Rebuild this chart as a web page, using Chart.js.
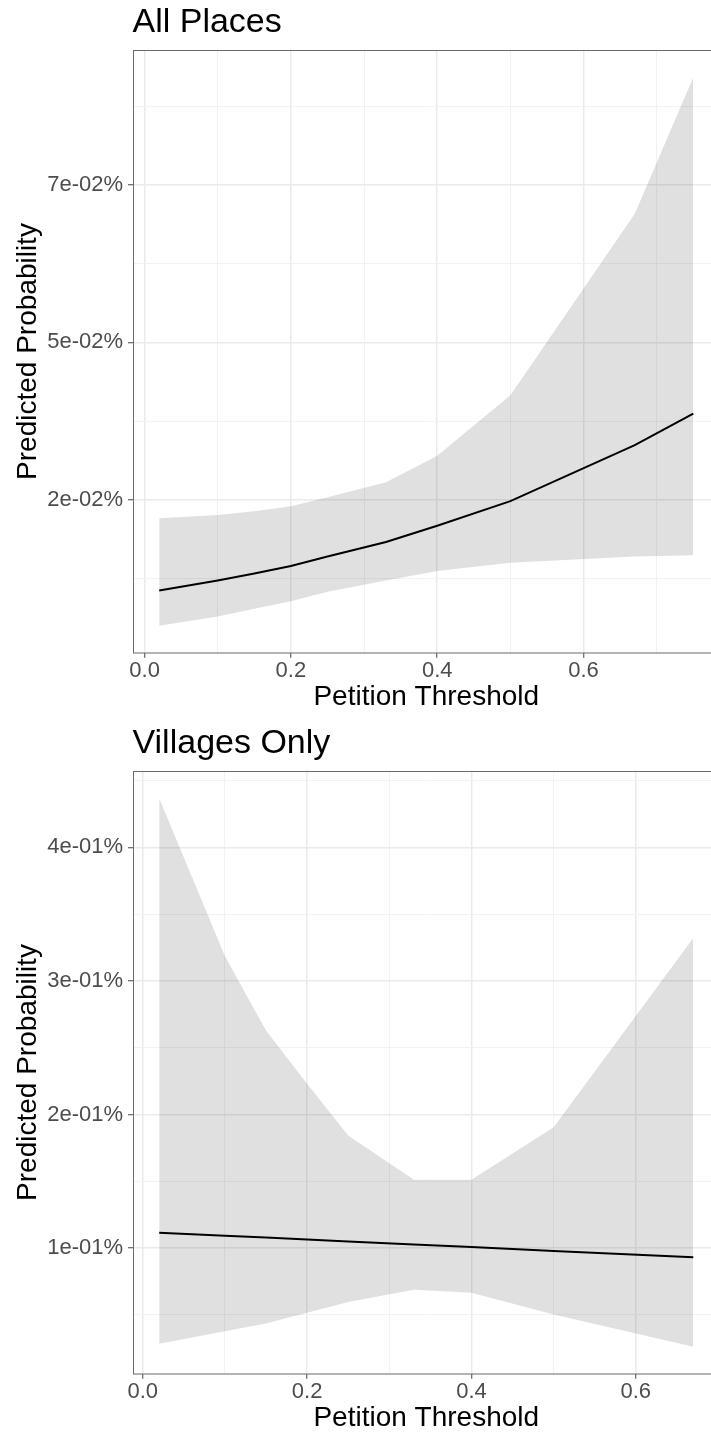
<!DOCTYPE html>
<html>
<head>
<meta charset="utf-8">
<script src="https://cdn.jsdelivr.net/npm/chart.js@4.4.1/dist/chart.umd.min.js"></script>
<style>
  html, body { margin: 0; padding: 0; background: #fff; }
  body { position: relative; width: 711px; height: 1435px; overflow: hidden; }
  canvas { position: absolute; left: 0; display: block; }
  #all-places { top: 0; }
  #villages { top: 721px; }
</style>
</head>
<body>
<canvas id="all-places" width="730" height="716"></canvas>
<canvas id="villages" width="730" height="716"></canvas>
<script>
// predicted probability (in %) with confidence band, by petition threshold
const allThresholds = [0.02, 0.10, 0.15, 0.20, 0.25, 0.33, 0.40, 0.50, 0.67, 0.75]
const allFit   = [0.0106, 0.0122, 0.0133, 0.0145, 0.0160, 0.0183, 0.0209, 0.0248, 0.0337, 0.0387]
const allUpper = [0.0221, 0.0226, 0.0232, 0.0240, 0.0254, 0.0278, 0.0320, 0.0416, 0.0704, 0.0921]
const allLower = [0.0050, 0.0065, 0.0077, 0.0089, 0.0104, 0.0122, 0.0137, 0.0150, 0.0160, 0.0162]
const allTicks = [0.025, 0.05, 0.075]
const allTickLabels = ['2e-02%', '5e-02%', '7e-02%']

const villageThresholds = [0.02, 0.10, 0.15, 0.20, 0.25, 0.33, 0.40, 0.50, 0.67]
const villageFit   = [0.1114, 0.1092, 0.1078, 0.1063, 0.1049, 0.1026, 0.1007, 0.0978, 0.0930]
const villageUpper = [0.4368, 0.3184, 0.2628, 0.2229, 0.1842, 0.1511, 0.1511, 0.1905, 0.3321]
const villageLower = [0.0284, 0.0376, 0.0434, 0.0516, 0.0596, 0.0688, 0.0666, 0.0503, 0.0260]
const villageTicks = [0.1, 0.2, 0.3, 0.4]
const villageTickLabels = ['1e-01%', '2e-01%', '3e-01%', '4e-01%']

const xTicks = [0, 0.2, 0.4, 0.6]
const xTickLabels = ['0.0', '0.2', '0.4', '0.6']

Chart.defaults.font.family = '"Liberation Sans", Arial, Helvetica, sans-serif'
Chart.defaults.animation = false

// ggplot style: pad the data range by 5% on each side
function expand(values) {
  const lo = Math.min(...values)
  const hi = Math.max(...values)
  const pad = (hi - lo) * 0.05
  return [lo - pad, hi + pad]
}

// major ticks plus a minor one halfway between (and past the last)
function withMinors(majors, step, lo, hi) {
  const ticks = []
  for (const v of majors) {
    ticks.push({ value: v - step / 2, minor: true })
    ticks.push({ value: v, minor: false })
  }
  ticks.push({ value: majors[majors.length - 1] + step / 2, minor: true })
  return ticks.filter(t => t.value >= lo && t.value <= hi)
}

function labeller(values, labels) {
  return value => {
    const k = values.findIndex(v => Math.abs(v - value) < 1e-9)
    return k < 0 ? '' : labels[k]
  }
}

const grid = {
  color: c => (c.tick && c.tick.minor) ? '#F2F2F2' : '#EBEBEB',
  lineWidth: c => (c.tick && c.tick.minor) ? 1 : 1.5,
  tickColor: c => (c.tick && c.tick.minor) ? 'rgba(0,0,0,0)' : '#444',
  tickWidth: 1,
  tickLength: 4.5
}

// frame round the plotting area
const panelBorder = {
  id: 'panelBorder',
  afterDatasetsDraw(chart) {
    const { ctx, chartArea: a } = chart
    const l = Math.round(a.left) + 0.5
    const t = Math.round(a.top) + 0.5
    ctx.save()
    ctx.strokeStyle = '#6a6a6a'
    ctx.lineWidth = 1
    ctx.strokeRect(l, t, Math.round(a.right) - l, Math.round(a.bottom) - t)
    ctx.restore()
  }
}

function drawPanel(id, title, xs, fit, upper, lower, yTicks, yTickLabels) {
  const [xMin, xMax] = expand(xs)
  const [yMin, yMax] = expand(upper.concat(lower))
  const yStep = yTicks[1] - yTicks[0]
  const points = ys => xs.map((x, i) => ({ x, y: ys[i] }))

  new Chart(document.getElementById(id), {
    type: 'line',
    data: {
      datasets: [
        { data: points(fit), borderColor: '#000', borderWidth: 2, pointRadius: 0, fill: false },
        { data: points(upper), borderColor: 'rgba(0,0,0,0)', borderWidth: 0, pointRadius: 0,
          backgroundColor: 'rgba(0,0,0,0.12)', fill: '+1' },
        { data: points(lower), borderColor: 'rgba(0,0,0,0)', borderWidth: 0, pointRadius: 0, fill: false }
      ]
    },
    options: {
      responsive: false,
      layout: { padding: { left: 0, right: 10, top: 0, bottom: 0 } },
      plugins: {
        legend: { display: false },
        tooltip: { enabled: false },
        title: {
          display: true, text: title, align: 'start', fullSize: false, color: '#000',
          font: { size: 34, weight: 'normal', lineHeight: 1.2 },
          padding: { top: 2.6, bottom: 6.3 }
        }
      },
      scales: {
        x: {
          type: 'linear', min: xMin, max: xMax,
          afterBuildTicks: s => { s.ticks = withMinors(xTicks, 0.2, xMin, xMax) },
          afterFit: s => { s.height = 62.7 },
          grid: grid,
          border: { display: false },
          ticks: {
            callback: labeller(xTicks, xTickLabels), autoSkip: false, maxRotation: 0,
            color: '#4D4D4D', font: { size: 22 }, padding: 0
          },
          title: {
            display: true, text: 'Petition Threshold', color: '#000',
            font: { size: 28, lineHeight: 1.2 }, padding: { top: 0, bottom: 1.7 }
          }
        },
        y: {
          type: 'linear', min: yMin, max: yMax,
          afterBuildTicks: s => { s.ticks = withMinors(yTicks, yStep, yMin, yMax) },
          afterFit: s => { s.width = 132.5 },
          grid: grid,
          border: { display: false },
          ticks: {
            callback: labeller(yTicks, yTickLabels), autoSkip: false,
            color: '#4D4D4D', font: { size: 22 }, padding: 5
          },
          title: {
            display: true, text: 'Predicted Probability', color: '#000',
            font: { size: 28, lineHeight: 1.2 }, padding: { top: 11, bottom: 0 }
          }
        }
      }
    },
    plugins: [panelBorder]
  })
}

drawPanel('all-places', 'All Places', allThresholds, allFit, allUpper, allLower, allTicks, allTickLabels)
drawPanel('villages', 'Villages Only', villageThresholds, villageFit, villageUpper, villageLower, villageTicks, villageTickLabels)
</script>
</body>
</html>
